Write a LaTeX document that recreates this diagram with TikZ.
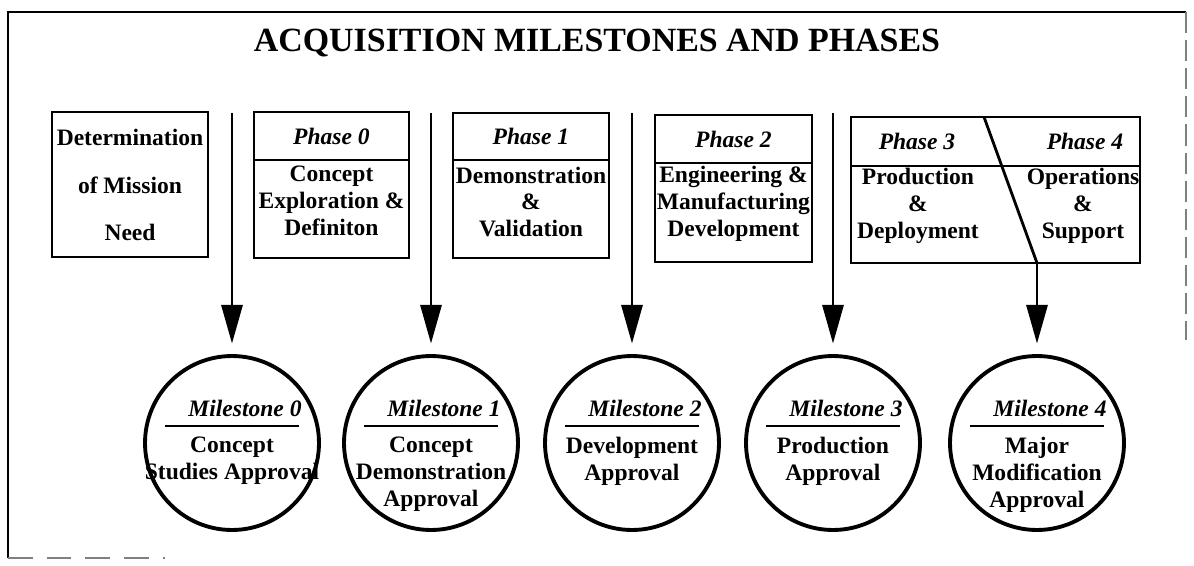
\documentclass[tikz,border=0pt]{standalone}
\usepackage{fontspec}
\setmainfont{Liberation Serif}
\usetikzlibrary{arrows.meta}

\begin{document}
\begin{tikzpicture}[x=0.02cm,y=-0.02cm,
    font=\fontsize{13.4}{15.3}\selectfont\bfseries,
    phasebox/.style={draw,line width=1.6pt,inner sep=0pt},
    boxtext/.style={align=center,inner sep=0pt},
    phasename/.style={boxtext,font=\fontsize{13.4}{15.3}\selectfont\bfseries\itshape},
    milestone/.style={draw,circle,line width=2.2pt,minimum size=3.48cm,inner sep=0pt},
    gate/.style={line width=1.6pt,-{Triangle[length=22pt,width=12pt]},shorten >=6pt}]
  \useasboundingbox (0,0) rectangle (1194,565);
  % outer frame
  \draw[line width=1.1pt] (8,558) -- (8,12) -- (1186,12);
  \draw[gray,line width=0.6pt,dash pattern=on 12pt off 4pt] (1186,12) -- (1186,340);
  \draw[gray,line width=0.8pt,dash pattern=on 14pt off 8pt] (8,558) -- (165,558);
  \node[font=\fontsize{19.3}{22}\selectfont\bfseries] (title) at (597,43) {ACQUISITION MILESTONES AND PHASES};

  % phase boxes
  \node[phasebox,minimum width=3.12cm,minimum height=2.9cm] (need) at (130,184.5) {};
  \node[boxtext] (need text) at (130,185) {Determination\\[12pt]of Mission\\[11pt]Need};

  \node[phasebox,minimum width=3.1cm,minimum height=2.92cm] (p0) at (331.5,185) {};
  \draw[line width=1.6pt] (254,160) -- (409,160);
  \node[phasename] (p0 name) at (331.5,136) {Phase 0};
  \node[boxtext] (p0 text) at (331.5,201) {Concept\\Exploration \&\\Definiton};

  \node[phasebox,minimum width=3.12cm,minimum height=2.9cm] (p1) at (531,185.5) {};
  \draw[line width=1.6pt] (453,160) -- (609,160);
  \node[phasename] (p1 name) at (531,136) {Phase 1};
  \node[boxtext] (p1 text) at (531,202) {Demonstration\\\&\\Validation};

  \node[phasebox,minimum width=3.14cm,minimum height=2.94cm] (p2) at (733.5,188.5) {};
  \draw[line width=1.6pt] (655,163) -- (812,163);
  \node[phasename] (p2 name) at (733.5,139) {Phase 2};
  \node[boxtext] (p2 text) at (733.5,204) {Engineering \&\\Manufacturing\\Development};

  \node[phasebox,minimum width=5.78cm,minimum height=2.92cm] (p34) at (995.5,190) {};
  \draw[line width=1.6pt] (851,166) -- (1140,166);
  \draw[line width=1.6pt] (984,117) -- (1037,263);
  \node[phasename] (p3 name) at (917,141) {Phase 3};
  \node[phasename] (p4 name) at (1085,141) {Phase 4};
  \node[boxtext] (p3 text) at (918,206) {Production\\\&\\Deployment};
  \node[boxtext] (p4 text) at (1083,206) {Operations\\\&\\Support};

  % milestone circles
  \foreach \x/\n/\t in {232/0/{Concept\\Studies Approval},
                        431/1/{Concept\\Demonstration\\Approval},
                        632/2/{Development\\Approval},
                        833/3/{Production\\Approval},
                        1037/4/{Major\\Modification\\Approval}} {
    \node[milestone] (m\n) at (\x,443) {};
    \node[phasename] (m\n name) at ([shift={(13,-35)}]m\n.center) {Milestone \n};
    \draw[line width=1.4pt] ([shift={(-67,-17)}]m\n.center) -- ([shift={(67,-17)}]m\n.center);
    \node[boxtext,anchor=north] (m\n text) at ([shift={(0,-6)}]m\n.center) {\t};
  }

  % decision points
  \coordinate (g0) at (232,113);
  \coordinate (g1) at (431,113);
  \coordinate (g2) at (632,113);
  \coordinate (g3) at (833,113);
  \coordinate (g4) at (1037,263);
  \foreach \n in {0,...,4}
    \draw[gate] (g\n) -- (m\n);
\end{tikzpicture}
\end{document}
